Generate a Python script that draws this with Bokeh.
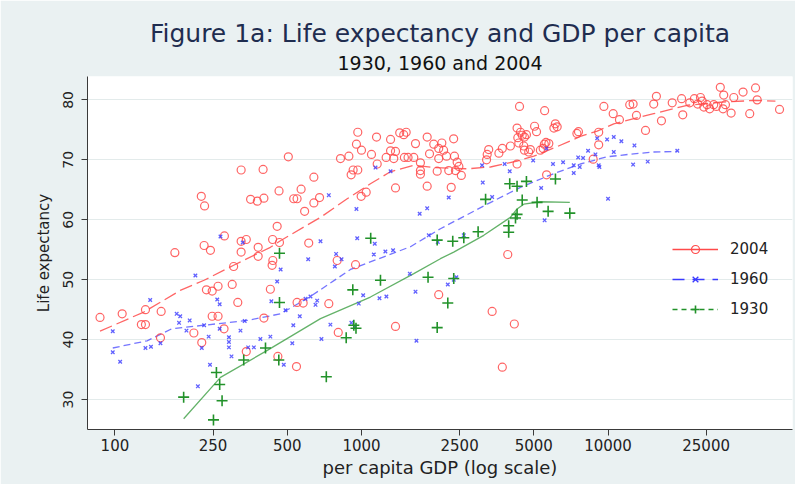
import math
from bokeh.plotting import figure
from bokeh.models import (Range1d, FixedTicker, Title, Legend, LegendItem)
from bokeh.embed import file_html
from bokeh.resources import INLINE

# ---------------- data ----------------
gdp_2004 = [966, 1151, 1312, 1429, 1484, 1518, 1656, 1847, 1964, 2057, 954, 1000, 1098, 822, 889,
            1259, 1312, 1374, 1352, 1493, 1630, 1734, 1734, 1734, 2028, 2057, 505, 325, 399, 925,
            966, 908, 641, 1158, 224, 231, 463, 569, 531, 548, 676, 641, 355, 378, 402, 588, 997,
            1045, 1374, 1847, 455, 278, 230, 244, 325, 341, 325, 381, 436, 465, 611, 175, 381,
            2118, 2153, 2365, 1545, 1888, 2213, 2383, 2444, 2483, 2405, 2259, 2312, 2541,
            87, 107, 133, 128, 133, 154, 153, 209, 225, 235, 248, 262, 299, 315, 248, 262, 277,
            341, 303, 437, 434, 427, 402, 458, 545, 548, 580, 737, 805, 797, 946, 1374, 2057,
            4375, 5531, 4276, 5036, 5128, 6114, 6219, 6030, 4415, 4487, 4667, 4582, 4306, 4345,
            4552, 4582, 4018, 3726, 3609, 3281, 3235, 3216, 4276, 4841, 4767, 5316, 5455, 5601,
            5516, 5753, 7589, 7478, 9165, 9165, 8706, 5634, 3920, 9618, 10493, 11125, 12246,
            12640, 13041, 14191, 15322, 15710, 16469, 18211, 20095, 19878, 21445, 22397, 23102,
            23714, 24090, 24468, 25230, 25841, 26824, 27513, 28533, 29464, 29271, 29936, 31568,
            32365, 35293, 37560, 39654, 40260, 49610, 3388, 4168, 3726]
le_2004 = [74.6, 73.8, 73.4, 74.5, 74.2, 74.6, 72.7, 73.8, 72.6, 71.9, 72.6, 71.6, 70.9, 70.2, 70.6,
           70.4, 71.5, 71.4, 70.2, 70.4, 70.4, 69.5, 68.2, 67.6, 68.1, 70.2, 70.5, 68.3, 68.4, 68.3,
           68.3, 67.5, 67.1, 69.3, 63.9, 62.3, 64.8, 65.1, 63.5, 63.5, 63.7, 62.8, 63.4, 63.1, 63.6,
           61.4, 63.9, 64.6, 65.3, 65.6, 58.9, 57.3, 55.7, 54.9, 56.4, 56.7, 54.6, 55.4, 56.7, 56.2,
           56.1, 54.5, 53.9,
           72.8, 71.6, 73.5, 70.4, 71.0, 70.6, 70.6, 69.6, 68.9, 68.2, 68.2, 65.4, 67.4,
           43.7, 44.3, 45.0, 42.5, 42.5, 44.7, 40.3, 41.1, 39.5, 48.3, 48.1, 48.9, 49.2, 46.2, 43.9,
           43.9, 41.8, 38.0, 52.2, 53.2, 52.4, 48.4, 43.6, 37.2, 35.5, 46.2, 46.1, 46.0, 41.2, 53.2,
           52.5, 42.2, 47.5,
           78.9, 78.2, 75.3, 75.6, 74.7, 76.0, 75.5, 75.3, 74.6, 74.1, 74.2, 73.8, 73.7, 72.8,
           72.3, 71.6, 72.3, 71.9, 71.1, 71.7, 70.9, 70.0, 69.3, 71.7, 71.3, 71.6, 71.9, 72.9,
           72.6, 72.7, 74.7, 74.4, 74.6, 72.5, 70.1, 67.5, 54.2, 78.9, 77.7, 76.7, 79.2,
           79.3, 77.4, 74.9, 79.3, 80.6, 76.5, 79.5, 77.5, 80.2, 79.5, 80.2, 79.3,
           80.4, 79.8, 78.8, 79.2, 78.5, 79.2, 78.9, 82.1, 80.8, 78.5, 79.2, 77.8,
           80.4, 81.3, 77.7, 82.0, 80.0, 78.4, 44.7, 42.6, 35.4]

gdp_1960 = [1140, 1312, 737, 954, 1722, 1847, 268, 330, 682, 961, 1132, 1875, 1250, 1343, 1122,
            789, 608, 780, 830, 470, 455, 212, 260, 266, 178, 184, 201, 182, 195, 230, 266, 240,
            290, 290, 290, 323, 336, 347, 366, 389, 427, 431, 492, 562, 593, 621, 661, 651, 529,
            524, 688, 748, 910, 939, 975, 1016, 1183, 1262, 1656, 1671, 1570, 98, 98, 105, 133,
            140, 153, 139, 217, 225, 243, 297, 484, 2039, 3084, 3808, 3993, 4970, 5981, 6572,
            7259, 7677, 7259, 9165, 9226, 12640, 14487, 3104, 3388, 5355, 2259, 10000, 5531,
            2600, 2426, 2367, 2239, 5627, 7566, 7921, 8299, 9036, 9911, 10550, 10550, 11325,
            12797, 19098, 8890]
le_1960 = [68.7, 68.1, 64.1, 61.8, 61.0, 61.9, 57.2, 56.2, 56.4, 56.9, 56.0, 57.4, 54.7, 54.9, 54.2,
           54.3, 53.4, 52.2, 53.4, 51.7, 49.7, 50.7, 46.7, 45.9, 44.3, 43.9, 43.2, 42.8, 41.5, 42.4,
           41.8, 40.5, 40.4, 39.6, 38.7, 41.5, 43.1, 38.7, 38.7, 40.1, 40.5, 46.4, 44.9, 43.9, 46.8,
           47.2, 46.5, 45.8, 42.4, 39.4, 40.1, 42.5, 42.8, 42.1, 46.0, 47.4, 46.9, 47.2, 48.0, 39.8,
           51.0, 41.4, 37.9, 36.3, 38.6, 38.8, 39.4, 46.6, 32.2, 38.6, 35.8, 37.2, 35.8, 56.3, 69.1,
           69.3, 68.1, 69.9, 69.3, 69.6, 69.1, 68.8, 67.8, 69.1, 68.8, 69.2, 69.7, 66.2, 63.8, 65.3,
           63.7, 63.5, 59.9, 57.4, 50.4, 50.0, 49.2, 71.9, 70.4, 70.3, 71.5, 73.6, 73.4, 73.8, 71.3,
           73.1, 72.4, 71.5, 70.9]

gdp_1930 = [465, 465, 408, 333, 462, 258, 266, 272, 190, 251, 720, 922, 1194, 867, 931, 950, 1862,
            2028, 2028, 1090, 3993, 4276, 4667, 6119, 3187, 4487, 5155, 5715, 6998, 4276, 4214,
            3954, 3954, 2972, 2600, 2345, 2367, 2239]
le_1930 = [54.4, 46.2, 38.6, 36.6, 36.6, 34.5, 32.5, 29.8, 30.4, 26.6, 33.8, 48.3, 49.9, 40.3, 42.4,
           41.9, 50.4, 42.0, 56.6, 56.9, 66.0, 65.6, 66.4, 66.8, 63.4, 63.3, 62.9, 61.4, 61.1, 60.9,
           60.3, 59.0, 57.9, 58.0, 57.0, 56.4, 50.2, 46.1]

# smoothed (lowess) curves
fit_gdp_2004 = [87, 131, 184, 230, 303, 427, 469, 682, 875, 1087, 1310, 1630, 1964, 2685, 3334,
                4276, 5000, 6219, 7723, 9036, 10550, 15322, 20941, 28533, 38995, 47750]
fit_le_2004 = [41.4, 44.6, 48.2, 49.9, 52.4, 55.4, 56.5, 60.4, 63.5, 66.0, 68.0, 69.1, 68.7, 68.5,
               68.8, 69.8, 70.6, 72.2, 73.9, 74.8, 76.0, 77.7, 79.1, 79.6, 79.9, 79.8]
fit_gdp_1960 = [98, 135, 170, 230, 344, 469, 621, 902, 1158, 1580, 2090, 3235, 4411, 6030, 7723,
                9911, 12706, 15322, 18927]
fit_le_1960 = [38.6, 39.8, 41.8, 42.4, 43.2, 44.3, 47.2, 51.7, 53.4, 55.5, 58.5, 62.6, 65.4, 67.7,
               69.3, 70.5, 71.0, 71.3, 71.4]
fit_gdp_1930 = [190, 268, 415, 682, 1087, 1630, 2090, 2367, 3133, 4018, 4276, 4552, 5316, 6998]
fit_le_1930 = [26.8, 33.7, 38.2, 43.5, 47.1, 51.0, 53.5, 54.6, 57.4, 60.4, 61.8, 62.6, 63.0, 62.9]

x_ticks = [100, 250, 500, 1000, 2500, 5000, 10000, 25000]
x_tick_labels = ["100", "250", "500", "1000", "2500", "5000", "10000", "25000"]
y_ticks = [30, 40, 50, 60, 70, 80]
series_names = ["2004", "1960", "1930"]

# ---------------- styling ----------------
RED = "#ff4a4a"
BLUE = "#3a3aff"
GREEN = "#22922a"
FONT = "DejaVu Sans"
BG = "#eaf1f2"
NAN = float("nan")

p = figure(width=795, height=484, x_axis_type="log", output_backend="svg",
           toolbar_location=None, title=None,
           x_range=Range1d(77.4, 56000), y_range=Range1d(25, 83.9),
           min_border_left=87, min_border_right=3, min_border_top=76, min_border_bottom=55)
p.border_fill_color = BG
p.background_fill_color = "white"
p.outline_line_color = None

p.add_layout(Title(text="1930, 1960 and 2004", align="center", text_font=FONT,
                   text_font_size="19px", text_font_style="normal", text_color="#111111",
                   standoff=5), "above")
p.add_layout(Title(text="Figure 1a: Life expectancy and GDP per capita", align="center",
                   text_font=FONT, text_font_size="25px", text_font_style="normal",
                   text_color="#1f2d50", standoff=0), "above")

# grid
p.xgrid.grid_line_color = None
p.ygrid.grid_line_color = "#e3ebeb"
p.ygrid.grid_line_width = 1

# axes
p.xaxis.ticker = FixedTicker(ticks=x_ticks)
p.xaxis.major_label_overrides = {t: l for t, l in zip(x_ticks, x_tick_labels)}
p.yaxis.ticker = FixedTicker(ticks=y_ticks)
for ax in (p.xaxis, p.yaxis):
    ax.axis_line_color = "#3a3a3a"
    ax.major_tick_line_color = "#3a3a3a"
    ax.minor_tick_line_color = None
    ax.major_tick_out = 6
    ax.major_tick_in = 0
    ax.major_label_text_font = FONT
    ax.major_label_text_color = "#222222"
    ax.axis_label_text_font = FONT
    ax.axis_label_text_font_style = "normal"
    ax.axis_label_text_color = "#222222"
p.xaxis.axis_label = "per capita GDP (log scale)"
p.xaxis.major_label_text_font_size = "15px"
p.xaxis.axis_label_text_font_size = "18px"
p.xaxis.major_label_standoff = 3
p.xaxis.axis_label_standoff = 3
p.yaxis.axis_label = "Life expectancy"
p.yaxis.major_label_text_font_size = "14px"
p.yaxis.axis_label_text_font_size = "15px"
p.yaxis.major_label_orientation = "vertical"
p.yaxis.major_label_standoff = 8
p.yaxis.axis_label_standoff = 8

# fitted lines
p.line(fit_gdp_2004, fit_le_2004, line_color=RED, line_width=1.3, line_dash="13 5", line_alpha=0.85)
p.line(fit_gdp_1960, fit_le_1960, line_color=BLUE, line_width=1.3, line_dash="7 4", line_alpha=0.7)
p.line(fit_gdp_1930, fit_le_1930, line_color=GREEN, line_width=1.3, line_alpha=0.7)

# points
p.scatter(gdp_2004, le_2004, marker="circle", size=8, fill_color=None, line_color=RED,
          line_width=1.2, line_alpha=0.85)
p.scatter(gdp_1960, le_1960, marker="x", size=5, line_color=BLUE, line_width=1.3, line_alpha=0.8)
p.scatter(gdp_1930, le_1930, marker="cross", size=11, line_color=GREEN, line_width=1.6)

# legend (legend-only glyphs, no visible data)
l04 = p.line(x=[NAN], y=[NAN], line_color=RED, line_width=1.5)
m04 = p.scatter(x=[NAN], y=[NAN], marker="circle", size=8, fill_color=None, line_color=RED, line_width=1.2)
l60 = p.line(x=[NAN], y=[NAN], line_color=BLUE, line_width=1.5, line_dash="12 8")
m60 = p.scatter(x=[NAN], y=[NAN], marker="x", size=5, line_color=BLUE, line_width=1.3)
l30 = p.line(x=[NAN], y=[NAN], line_color=GREEN, line_width=1.5, line_dash="5 4")
m30 = p.scatter(x=[NAN], y=[NAN], marker="cross", size=11, line_color=GREEN, line_width=1.6)

legend = Legend(items=[LegendItem(label=series_names[0], renderers=[l04, m04]),
                       LegendItem(label=series_names[1], renderers=[l60, m60]),
                       LegendItem(label=series_names[2], renderers=[l30, m30])],
                location=(585, 110), glyph_width=46, glyph_height=20, label_standoff=12,
                spacing=10, padding=0, margin=0, border_line_color=None,
                background_fill_alpha=0, label_text_font=FONT, label_text_font_size="15px",
                label_text_color="#222222")
p.add_layout(legend)

open("out.html", "w").write(file_html(p, INLINE))
